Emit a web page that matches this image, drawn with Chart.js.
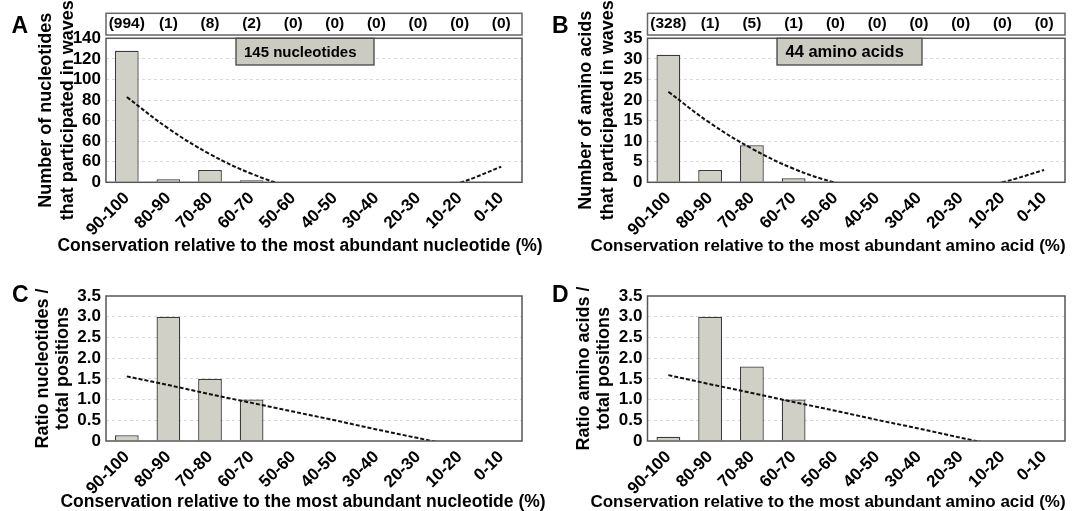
<!DOCTYPE html>
<html>
<head>
<meta charset="utf-8">
<title>Conservation of wave-participating residues</title>
<script src="https://cdn.jsdelivr.net/npm/chart.js@4.4.1/dist/chart.umd.min.js"></script>
<style>
  html, body { margin: 0; padding: 0; background: #fff; }
  #wrap { position: relative; width: 1081px; height: 511px; overflow: hidden; }
  canvas { position: absolute; }
</style>
</head>
<body>
<div id="wrap">
  <canvas id="chartA" width="552" height="256" style="left:0;top:0"></canvas>
  <canvas id="chartB" width="541" height="256" style="left:540px;top:0"></canvas>
  <canvas id="chartC" width="552" height="255" style="left:0;top:256px"></canvas>
  <canvas id="chartD" width="541" height="255" style="left:540px;top:256px"></canvas>
</div>
<script>
// categories (conservation bins) and the counts printed above A and B
const categories = ['90-100', '80-90', '70-80', '60-70', '50-60', '40-50', '30-40', '20-30', '10-20', '0-10'];
const countsA = ['(994)', '(1)', '(8)', '(2)', '(0)', '(0)', '(0)', '(0)', '(0)', '(0)'];
const countsB = ['(328)', '(1)', '(5)', '(1)', '(0)', '(0)', '(0)', '(0)', '(0)', '(0)'];

// bars + dashed trend lines
const barsA = [128, 3, 12, 2, 0, 0, 0, 0, 0, 0];
const trendA = [82.9, 52.3, 27.4, 8.3, -5.0, -12.6, -14.3, -10.3, -0.5, 15.1];
const barsB = [31, 3, 9, 1, 0, 0, 0, 0, 0, 0];
const trendB = [22.0, 14.4, 8.2, 3.3, -0.1, -2.2, -2.8, -2.1, 0, 3.0];
const barsC = [0.14, 3.0, 1.5, 1.0, 0, 0, 0, 0, 0, 0];
const trendC = [1.56, 1.35, 1.13, 0.92, 0.71, 0.50, 0.28, 0.07, -0.14, -0.36];
const barsD = [0.1, 3.0, 1.8, 1.0, 0, 0, 0, 0, 0, 0];
const trendD = [1.59, 1.37, 1.16, 0.94, 0.73, 0.51, 0.30, 0.08, -0.13, -0.35];

// y tick labels as printed
const yTicksA = ['0', '60', '60', '60', '80', '100', '120', '140'];
const yTicksB = ['0', '5', '10', '15', '20', '25', '30', '35'];
const yTicksCD = ['0', '0.5', '1.0', '1.5', '2.0', '2.5', '3.0', '3.5'];

const FONT = '"Liberation Sans", Arial, Helvetica, sans-serif';
Chart.defaults.font.family = FONT;
Chart.defaults.color = '#000';

// frame, counts box, label box, panel letter and x title
const panelDeco = {
    id: 'panelDeco',
    afterDraw(chart, args, o) {
        const { ctx, chartArea: a } = chart;
        ctx.save();
        ctx.strokeStyle = '#555';
        ctx.lineWidth = 1.5;
        ctx.strokeRect(a.left, a.top, a.right - a.left, a.bottom - a.top);

        if (o.countsBox) {
            ctx.strokeStyle = '#666';
            ctx.strokeRect(a.left, o.countsBox[0], a.right - a.left, o.countsBox[1] - o.countsBox[0]);
        }
        if (o.label) {
            const [x0, x1, y0, y1] = o.labelBox;
            ctx.fillStyle = '#cccbc1';
            ctx.fillRect(x0, y0, x1 - x0, y1 - y0);
            ctx.strokeStyle = '#444';
            ctx.lineWidth = 1.3;
            ctx.strokeRect(x0, y0, x1 - x0, y1 - y0);
            ctx.fillStyle = '#000';
            ctx.font = 'bold ' + o.labelSize + 'px ' + FONT;
            ctx.textAlign = 'left';
            ctx.textBaseline = 'middle';
            ctx.fillText(o.label, o.labelX, (y0 + y1) / 2 + 1);
        }

        ctx.fillStyle = '#000';
        ctx.textBaseline = 'alphabetic';
        ctx.font = 'bold 23px ' + FONT;
        ctx.textAlign = 'left';
        ctx.fillText(o.letter, o.letterX, o.letterY);

        ctx.font = 'bold ' + o.xTitleSize + 'px ' + FONT;
        ctx.textAlign = 'center';
        ctx.fillText(o.xTitle, o.xTitleX, o.xTitleY);
        ctx.restore();
    }
};

function makePanel(id, p) {
    const ctx = document.getElementById(id).getContext('2d');
    const nTicks = p.yTicks.length;
    const scales = {
        x: {
            type: 'category',
            offset: true,
            grid: { display: false, drawTicks: false },
            border: { display: false },
            ticks: {
                autoSkip: false, minRotation: 45, maxRotation: 45, padding: 6,
                font: { size: 17, weight: 'bold' }
            },
            afterFit: s => { s.height = p.xHeight; }
        },
        y: {
            min: 0,
            max: p.yMax,
            grid: {
                drawTicks: false,
                lineWidth: 1,
                color: c => (c.index === 0 || c.index === nTicks - 1) ? 'rgba(0,0,0,0)' : '#d9d9d9'
            },
            border: { display: false, dash: [3, 3] },
            ticks: {
                autoSkip: false,
                stepSize: p.yStep,
                padding: 5,
                font: { size: 17, weight: 'bold' },
                callback: (v, i) => p.yTicks[i]
            },
            title: {
                display: true,
                text: p.yTitle,
                font: { size: 18, weight: 'bold', lineHeight: p.yTitleLH },
                padding: { top: p.yTitlePad, bottom: 0 }
            },
            afterFit: s => { s.width = p.yWidth; }
        }
    };
    if (p.counts) {
        scales.x2 = {
            type: 'category',
            position: 'top',
            labels: p.counts,
            offset: true,
            grid: { display: false, drawTicks: false },
            border: { display: false },
            ticks: { autoSkip: false, maxRotation: 0, padding: 5, font: { size: 15.5, weight: 'bold' } },
            afterFit: s => { s.height = p.x2Height; }
        };
    }

    return new Chart(ctx, {
        type: 'bar',
        data: {
            labels: categories,
            datasets: [
                {
                    type: 'line',
                    data: p.trend,
                    borderColor: '#111',
                    borderWidth: 2,
                    borderDash: [4, 2],
                    pointRadius: 0,
                    fill: false,
                    tension: p.tension,
                    order: 0
                },
                {
                    data: p.bars,
                    backgroundColor: '#d0d0c6',
                    borderColor: '#3a3a3a',
                    borderWidth: 1.3,
                    barPercentage: 0.57,
                    categoryPercentage: 1,
                    order: 1
                }
            ]
        },
        options: {
            responsive: false,
            animation: false,
            layout: { padding: p.padding },
            plugins: {
                legend: { display: false },
                tooltip: { enabled: false },
                panelDeco: p.deco
            },
            scales: scales
        },
        plugins: [panelDeco]
    });
}

makePanel('chartA', {
    bars: barsA, trend: trendA, tension: 0.4, counts: countsA,
    yMax: 140, yStep: 20, yTicks: yTicksA,
    yTitle: ['Number of nucleotides', 'that participated in waves'],
    yTitleLH: 1.222, yTitlePad: 34.7, yWidth: 106, xHeight: 73.7, x2Height: 25.3,
    padding: { top: 13, left: 0, right: 30, bottom: 0 },
    deco: {
        letter: 'A', letterX: 11.5, letterY: 33.3,
        xTitle: 'Conservation relative to the most abundant nucleotide (%)',
        xTitleX: 300, xTitleY: 250.5, xTitleSize: 17.5,
        countsBox: [13.3, 35],
        label: '145 nucleotides', labelBox: [236, 374, 38.3, 65], labelX: 244, labelSize: 15
    }
});

makePanel('chartB', {
    bars: barsB, trend: trendB, tension: 0.4, counts: countsB,
    yMax: 35, yStep: 5, yTicks: yTicksB,
    yTitle: ['Number of amino acids', 'that participated in waves'],
    yTitleLH: 1.222, yTitlePad: 34.8, yWidth: 107.5, xHeight: 73.7, x2Height: 25.3,
    padding: { top: 13, left: 0, right: 16, bottom: 0 },
    deco: {
        letter: 'B', letterX: 12, letterY: 33.3,
        xTitle: 'Conservation relative to the most abundant amino acid (%)',
        xTitleX: 288, xTitleY: 250.5, xTitleSize: 17,
        countsBox: [13.3, 35],
        label: '44 amino acids', labelBox: [237, 382, 38.3, 65], labelX: 245.5, labelSize: 16.5
    }
});

makePanel('chartC', {
    bars: barsC, trend: trendC, tension: 0,
    yMax: 3.5, yStep: 0.5, yTicks: yTicksCD,
    yTitle: ['Ratio nucleotides /', 'total positions'],
    yTitleLH: 1.111, yTitlePad: 33.3, yWidth: 106, xHeight: 70,
    padding: { top: 40, left: 0, right: 30, bottom: 0 },
    deco: {
        letter: 'C', letterX: 12, letterY: 45.5,
        xTitle: 'Conservation relative to the most abundant nucleotide (%)',
        xTitleX: 303, xTitleY: 251.3, xTitleSize: 17.5
    }
});

makePanel('chartD', {
    bars: barsD, trend: trendD, tension: 0,
    yMax: 3.5, yStep: 0.5, yTicks: yTicksCD,
    yTitle: ['Ratio amino acids /', 'total positions'],
    yTitleLH: 1.111, yTitlePad: 34.5, yWidth: 107.5, xHeight: 70,
    padding: { top: 40, left: 0, right: 16, bottom: 0 },
    deco: {
        letter: 'D', letterX: 12, letterY: 45.5,
        xTitle: 'Conservation relative to the most abundant amino acid (%)',
        xTitleX: 288, xTitleY: 251.3, xTitleSize: 17
    }
});
</script>
</body>
</html>
